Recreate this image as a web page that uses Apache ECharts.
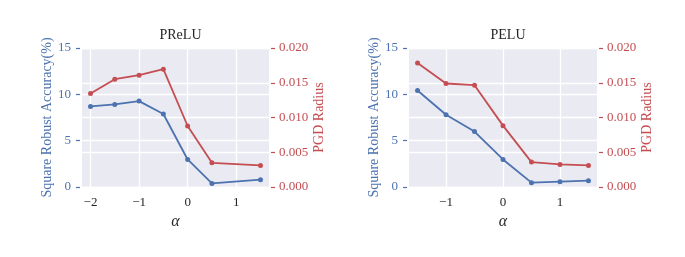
<!DOCTYPE html>
<html><head><meta charset="utf-8">
<script src="https://cdn.jsdelivr.net/npm/echarts@6/dist/echarts.min.js"></script>
<style>html,body{margin:0;padding:0;background:#fff}#c{width:685px;height:257px}</style>
</head><body><div id="c"></div>
<script>
const titles = ['PReLU', 'PELU'];
const alphaPReLU = [-2, -1.5, -1, -0.5, 0, 0.5, 1.5];
const accPReLU = [8.70, 8.91, 9.27, 7.88, 2.97, 0.39, 0.79];
const pgdPReLU = [0.01346, 0.01551, 0.01609, 0.01695, 0.00878, 0.00348, 0.00310];
const alphaPELU = [-1.5, -1, -0.5, 0, 0.5, 1, 1.5];
const accPELU = [10.42, 7.80, 5.98, 2.97, 0.47, 0.57, 0.68];
const pgdPELU = [0.01785, 0.01489, 0.01465, 0.00883, 0.00358, 0.00325, 0.00310];
const xTicksPReLU = [-2, -1, 0, 1];
const xTicksPELU = [-1, 0, 1];
const leftName = 'Square Robust Accuracy(%)';
const rightName = 'PGD Radius';
const xName = 'α';

const BLUE = '#4C72B0', RED = '#C44E52', BG = '#EAEAF2';
const FONT = "'Liberation Serif', 'Times New Roman', serif";
const grids = [
  {left: 82, top: 48, width: 187, height: 139},
  {left: 409, top: 48, width: 188, height: 139}
];
const xr = [[-2.175, 1.675], [-1.65, 1.65]];
const xt = [xTicksPReLU, xTicksPELU];
const fmtMinus = v => (v < 0 ? '\u2212' + Math.abs(v) : String(v));

const option = {
  animation: false,
  title: grids.map((g, i) => ({
    text: titles[i], left: g.left + g.width / 2, top: 23, textAlign: 'center',
    textStyle: {fontFamily: FONT, fontSize: 14, fontWeight: 'normal', color: '#262626'}
  })),
  grid: grids.map(g => Object.assign({backgroundColor: BG, show: true, borderWidth: 0}, g)),
  xAxis: [0, 1].map(i => ({
    type: 'value', gridIndex: i, min: xr[i][0], max: xr[i][1],
    name: xName, nameLocation: 'middle', nameGap: 23,
    nameTextStyle: {fontFamily: FONT, fontSize: 16, fontStyle: 'italic', color: '#262626'},
    axisLine: {show: false, onZero: false},
    axisTick: {show: false, customValues: xt[i]},
    axisLabel: {customValues: xt[i], formatter: fmtMinus, fontFamily: FONT, fontSize: 13, color: '#262626', margin: 9},
    splitLine: {show: true, lineStyle: {color: '#fff', width: 1.3}}
  })),
  yAxis: [].concat(...[0, 1].map(i => [
    {
      type: 'value', gridIndex: i, position: 'left', min: 0, max: 15, interval: 5, offset: 2,
      name: leftName, nameLocation: 'middle', nameGap: 26,
      nameTextStyle: {fontFamily: FONT, fontSize: 14, color: BLUE},
      axisLine: {show: false, onZero: false},
      axisTick: {show: true, length: 4, lineStyle: {color: BLUE, width: 1.2}},
      axisLabel: {fontFamily: FONT, fontSize: 13, color: BLUE, margin: 9},
      splitLine: {show: true, lineStyle: {color: '#fff', width: 1.3}}
    },
    {
      type: 'value', gridIndex: i, position: 'right', min: 0, max: 0.02, interval: 0.005, offset: 2,
      name: rightName, nameLocation: 'middle', nameGap: 40,
      nameTextStyle: {fontFamily: FONT, fontSize: 14, color: RED},
      axisLine: {show: false, onZero: false},
      axisTick: {show: true, length: 4, lineStyle: {color: RED, width: 1.2}},
      axisLabel: {fontFamily: FONT, fontSize: 13, color: RED, margin: 8, formatter: v => v.toFixed(3)},
      splitLine: {show: true, lineStyle: {color: '#fff', width: 1.3}}
    }
  ])),
  series: [
    {x: alphaPReLU, y: accPReLU, g: 0, ax: 0, c: BLUE},
    {x: alphaPReLU, y: pgdPReLU, g: 0, ax: 1, c: RED},
    {x: alphaPELU, y: accPELU, g: 1, ax: 2, c: BLUE},
    {x: alphaPELU, y: pgdPELU, g: 1, ax: 3, c: RED}
  ].map(s => ({
    type: 'line', xAxisIndex: s.g, yAxisIndex: s.ax,
    data: s.x.map((v, k) => [v, s.y[k]]),
    symbol: 'circle', symbolSize: 5, showSymbol: true,
    lineStyle: {color: s.c, width: 1.8}, itemStyle: {color: s.c}
  }))
};
echarts.init(document.getElementById('c')).setOption(option);
</script></body></html>
